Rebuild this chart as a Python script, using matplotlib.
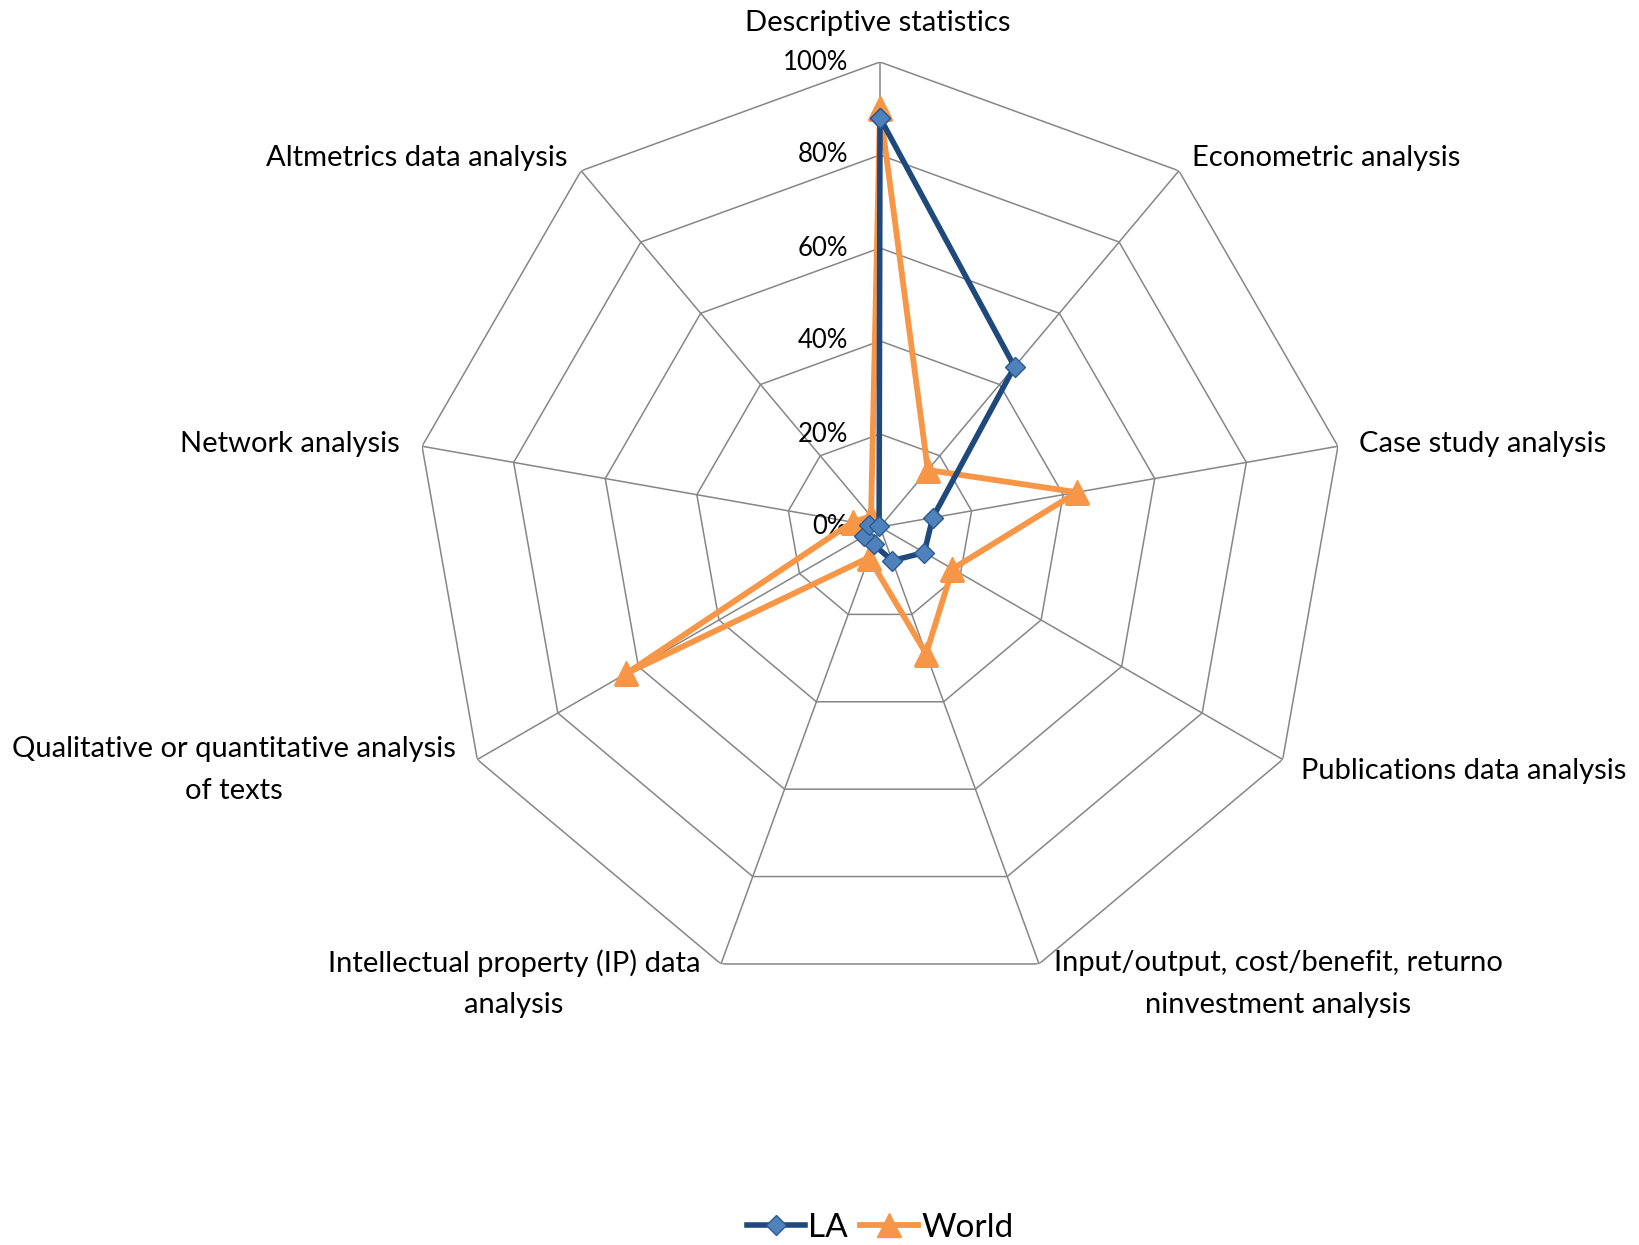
import numpy as np
import matplotlib
matplotlib.use("Agg")
import matplotlib.pyplot as plt
from matplotlib.lines import Line2D

categories = [
    "Descriptive statistics",
    "Econometric analysis",
    "Case study analysis",
    "Publications data analysis",
    "Input/output, cost/benefit, returno\nninvestment analysis",
    "Intellectual property (IP) data\nanalysis",
    "Qualitative or quantitative analysis\nof texts",
    "Network analysis",
    "Altmetrics data analysis",
]
la_values = [88, 45, 11.5, 11, 7.7, 4, 4, 2.5, 0.3]
world_values = [90, 16, 43, 18, 29, 7, 63, 6, 3]
r_ticks = [0, 20, 40, 60, 80, 100]
r_tick_labels = ["0%", "20%", "40%", "60%", "80%", "100%"]

W, H = 1639, 1245
plt.rcParams['font.family'] = ['Lato', 'DejaVu Sans']
fig = plt.figure(figsize=(W / 100, H / 100), dpi=100)

cx, cy, R = 880, 527, 465
ax = fig.add_axes([(cx - R) / W, (H - cy - R) / H, 2 * R / W, 2 * R / H], projection='polar')
ax.set_theta_zero_location('N')
ax.set_theta_direction(-1)
ax.set_ylim(0, 100)
ax.grid(False)
ax.spines['polar'].set_visible(False)
ax.set_xticks([])
ax.set_yticks([])
ax.patch.set_alpha(0)

n = len(categories)
theta = np.arange(n) * 2 * np.pi / n
theta_closed = np.append(theta, theta[0])

grid_color = '#868686'
for r in r_ticks[1:]:
    ax.plot(theta_closed, [r] * (n + 1), color=grid_color, lw=1.1, zorder=1)
for t in theta:
    ax.plot([t, t], [0, 100], color=grid_color, lw=1.1, zorder=1)

for r, lab in zip(r_ticks, r_tick_labels):
    ax.annotate(lab, xy=(0, r), xytext=(-32, 0), textcoords='offset pixels',
                ha='right', va='center', fontsize=18.5, color='black', zorder=2)

la_color = '#1F497D'
world_color = '#F79646'
ax.plot(theta_closed, la_values + la_values[:1], color=la_color, lw=4,
        marker='D', markersize=10, markerfacecolor='#4F81BD', markeredgecolor='#2C5A8C',
        markeredgewidth=1.0, zorder=4, solid_joinstyle='round')
ax.plot(theta_closed, world_values + world_values[:1], color=world_color, lw=4.2,
        marker='^', markersize=17, markerfacecolor=world_color, markeredgecolor=world_color,
        zorder=3, solid_joinstyle='round')

# category labels (pixel positions in reference)
label_pos = [
    (878, 23, 'center'),
    (1192, 158, 'left'),
    (1359, 444, 'left'),
    (1301, 771, 'left'),
    (1278, 984, 'center'),
    (514, 984, 'center'),
    (234, 770, 'center'),
    (400, 444, 'right'),
    (567, 158, 'right'),
]
for lab, (x, y, ha) in zip(categories, label_pos):
    fig.text(x / W, 1 - y / H, lab, ha=ha, va='center', multialignment='center',
             fontsize=21, linespacing=1.72)

handles = [
    Line2D([], [], color=la_color, lw=4, marker='D', markersize=10,
           markerfacecolor='#4F81BD', markeredgecolor='#2C5A8C'),
    Line2D([], [], color=world_color, lw=4.2, marker='^', markersize=17,
           markerfacecolor=world_color, markeredgecolor=world_color),
]
fig.legend(handles, ["LA", "World"], loc='center', bbox_to_anchor=(880 / W, 1 - 1228 / H),
           ncol=2, frameon=False, fontsize=24, handlelength=1.75, handletextpad=0.1,
           columnspacing=0.35)

fig.savefig('out.png', dpi=100)
